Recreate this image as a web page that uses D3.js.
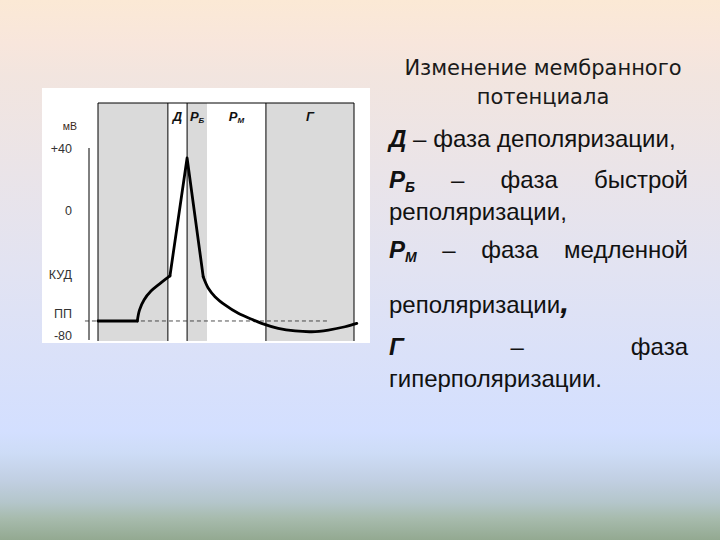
<!DOCTYPE html>
<html><head><meta charset="utf-8">
<script src="https://cdn.jsdelivr.net/npm/d3@7"></script>
<style>html,body{margin:0;padding:0;overflow:hidden;background:#fff}</style>
</head><body>
<svg id="c" width="720" height="540"></svg>
<script>
// ---------------- data ----------------
const phaseLabels   = ["", "Д", "Р", "Р", "Г"];
const phaseSubs     = ["", "", "Б", "М", ""];
const phaseStart    = [0, 27.3, 34.8, 42.6, 65.6];
const phaseEnd      = [27.3, 34.8, 42.6, 65.6, 100];
const phaseShaded   = [true, false, true, false, true];
const phaseBorders  = [0, 27.3, 34.8, 65.6, 100];

const yTickValues = [40, 0, -41, -66, -80];
const yTickLabels = ["+40", "0", "КУД", "ПП", "-80"];
const yUnit = "мВ";
const restingPotential = -71;

const restTime  = [0, 15.35];
const restV     = [-71, -71];
const riseTime  = [15.35, 16.2, 17.97, 20.7, 24.2, 28.1];
const riseV     = [-71, -64.0, -57.5, -51.8, -47.0, -42.1];
const spikeTime = [28.1, 34.8, 41.1];
const spikeV    = [-42.1, 33.6, -42.6];
const decayTime = [41.1, 43.1, 45.7, 49.6, 54.8, 60.0, 63.9, 70.4, 77.0, 83.5, 90.0, 96.5, 101.1];
const decayV    = [-42.6, -50.0, -55.4, -60.7, -66.1, -69.9, -72.5, -75.7, -77.4, -77.9, -76.8, -74.7, -72.5];

const titleLines = ["Изменение мембранного", "потенциала"];
// body lines: words, each word = segments [text, style]
const bodyLines = [
  {justify:false, words:[[["Д","bi"]],[["–",""]],[["фаза",""]],[["деполяризации,",""]]]},
  {justify:true,  words:[[["Р","bi"],["Б","bisub"]],[["–",""]],[["фаза",""]],[["быстрой",""]]]},
  {justify:false, words:[[["реполяризации,",""]]]},
  {justify:true,  words:[[["Р","bi"],["М","bisub"]],[["–",""]],[["фаза",""]],[["медленной",""]]]},
  {justify:false, words:[[["реполяризации",""],[",","big"]]]},
  {justify:true,  words:[[["Г","bi"]],[["–",""]],[["фаза",""]]]},
  {justify:false, words:[[["гиперполяризации.",""]]]}
];
const bodyBaselines = [147, 188, 220, 258, 313, 355, 387];

// ---------------- drawing ----------------
const svg = d3.select("#c");
const defs = svg.append("defs");
const grad = defs.append("linearGradient").attr("id","bg").attr("x1",0).attr("y1",0).attr("x2",0).attr("y2",1);
[[0,"#fbe9d5"],[0.08,"#f8e6dc"],[0.14,"#f2e5df"],[0.5,"#e2e3f2"],[0.8,"#d3dfff"],[0.84,"#cddcf6"],[0.89,"#c1cfe2"],[0.93,"#b4c6cb"],[0.96,"#a7bbad"],[1,"#93a991"]]
  .forEach(s => grad.append("stop").attr("offset", s[0]).attr("stop-color", s[1]));
svg.append("rect").attr("width",720).attr("height",540).attr("fill","url(#bg)");

// chart box
svg.append("rect").attr("x",42).attr("y",88).attr("width",328).attr("height",255).attr("fill","#fff");

const x = d3.scaleLinear().domain([0,100]).range([98,354]);
const y = d3.scaleLinear().domain([-80,40]).range([335,148]);
const panelTop = 103, panelBottom = 341;

const g = svg.append("g");
g.selectAll("rect.phase").data(phaseStart.map((s,i)=>({s, e:phaseEnd[i], sh:phaseShaded[i]})))
  .enter().append("rect")
  .attr("x", d=>x(d.s)).attr("y", panelTop)
  .attr("width", d=>x(d.e)-x(d.s)).attr("height", panelBottom-panelTop)
  .attr("fill", d=>d.sh ? "#dadada" : "#fff");

g.append("line").attr("x1",x(0)).attr("x2",x(100)).attr("y1",panelTop).attr("y2",panelTop)
  .attr("stroke","#000").attr("stroke-width",1);
g.selectAll("line.b").data(phaseBorders).enter().append("line")
  .attr("x1",d=>x(d)).attr("x2",d=>x(d)).attr("y1",panelTop).attr("y2",panelBottom)
  .attr("stroke","#000").attr("stroke-width",1);

// phase labels
const pl = g.selectAll("text.pl").data(phaseLabels.map((t,i)=>({t, sub:phaseSubs[i], c:(phaseStart[i]+phaseEnd[i])/2})).filter(d=>d.t))
  .enter().append("text")
  .attr("x", d=>x(d.c)).attr("y", 121)
  .attr("text-anchor","middle")
  .attr("font-family","Liberation Sans, Arial, sans-serif")
  .attr("font-size",13).attr("font-weight","bold").attr("font-style","italic").attr("fill","#111");
pl.append("tspan").text(d=>d.t);
pl.append("tspan").attr("font-size",8).attr("dy",2).text(d=>d.sub);

// y axis
const axis = d3.axisLeft(y).tickValues(yTickValues).tickFormat((d,i)=>yTickLabels[i]).tickSize(0).tickPadding(17);
const ag = svg.append("g").attr("transform","translate(89,0)").call(axis);
ag.select(".domain").remove();
ag.selectAll("text").attr("font-family","Liberation Sans, Arial, sans-serif").attr("font-size",12.5).attr("fill","#333");
ag.append("line").attr("x1",0).attr("x2",0).attr("y1",y(40)).attr("y2",y(-83.2)).attr("stroke","#000").attr("stroke-width",1);
svg.append("text").attr("x",77).attr("y",130).attr("text-anchor","end")
  .attr("font-family","Liberation Sans, Arial, sans-serif").attr("font-size",10.5).attr("fill","#3a2a1a").text(yUnit);

// resting potential dashed line
svg.append("line").attr("x1",x(-5.1)).attr("x2",x(89.8)).attr("y1",y(restingPotential)).attr("y2",y(restingPotential))
  .attr("stroke","#222").attr("stroke-width",0.8).attr("stroke-dasharray","4,3");

// curve
const toPts = (t,v)=>t.map((d,i)=>[d,v[i]]);
const lin = d3.line().x(d=>x(d[0])).y(d=>y(d[1]));
const smooth = d3.line().x(d=>x(d[0])).y(d=>y(d[1])).curve(d3.curveCatmullRom.alpha(0.5));
const cs = {stroke:"#000", "stroke-width":2.8, fill:"none", "stroke-linecap":"round", "stroke-linejoin":"round"};
function P(d, gen){ const p = svg.append("path").attr("d", gen(d)); Object.entries(cs).forEach(([k,v])=>p.attr(k,v)); }
P(toPts(restTime,restV), lin);
P(toPts(riseTime,riseV), smooth);
P(toPts(spikeTime,spikeV), lin);
P(toPts(decayTime,decayV), smooth);

// title
svg.selectAll("text.title").data(titleLines).enter().append("text")
  .attr("x",543).attr("y",(d,i)=>75+i*29).attr("text-anchor","middle")
  .attr("font-family","DejaVu Sans, sans-serif").attr("font-size",21).attr("fill","#1a1a1a").text(d=>d);

// body text
const left = 389, right = 688, FS = 24;
bodyLines.forEach((line, li) => {
  const by = bodyBaselines[li];
  const els = line.words.map(w => {
    const t = svg.append("text").attr("y", by).attr("font-family","Liberation Sans, Arial, sans-serif")
      .attr("font-size",FS).attr("fill","#111");
    w.forEach(([s,st]) => {
      const sp = t.append("tspan").text(s);
      if (st.startsWith("bi")) sp.attr("font-weight","bold").attr("font-style","italic");
      if (st === "bisub") sp.attr("font-size",14).attr("dy",4);
      if (st === "big") sp.attr("font-size",32);
    });
    return t;
  });
  const widths = els.map(e => e.node().getComputedTextLength());
  const total = d3.sum(widths);
  const gap = (line.justify && els.length>1) ? (right-left-total)/(els.length-1) : FS*0.28;
  let cx = left;
  els.forEach((e,i)=>{ e.attr("x",cx); cx += widths[i] + gap; });
});
</script>
</body></html>
